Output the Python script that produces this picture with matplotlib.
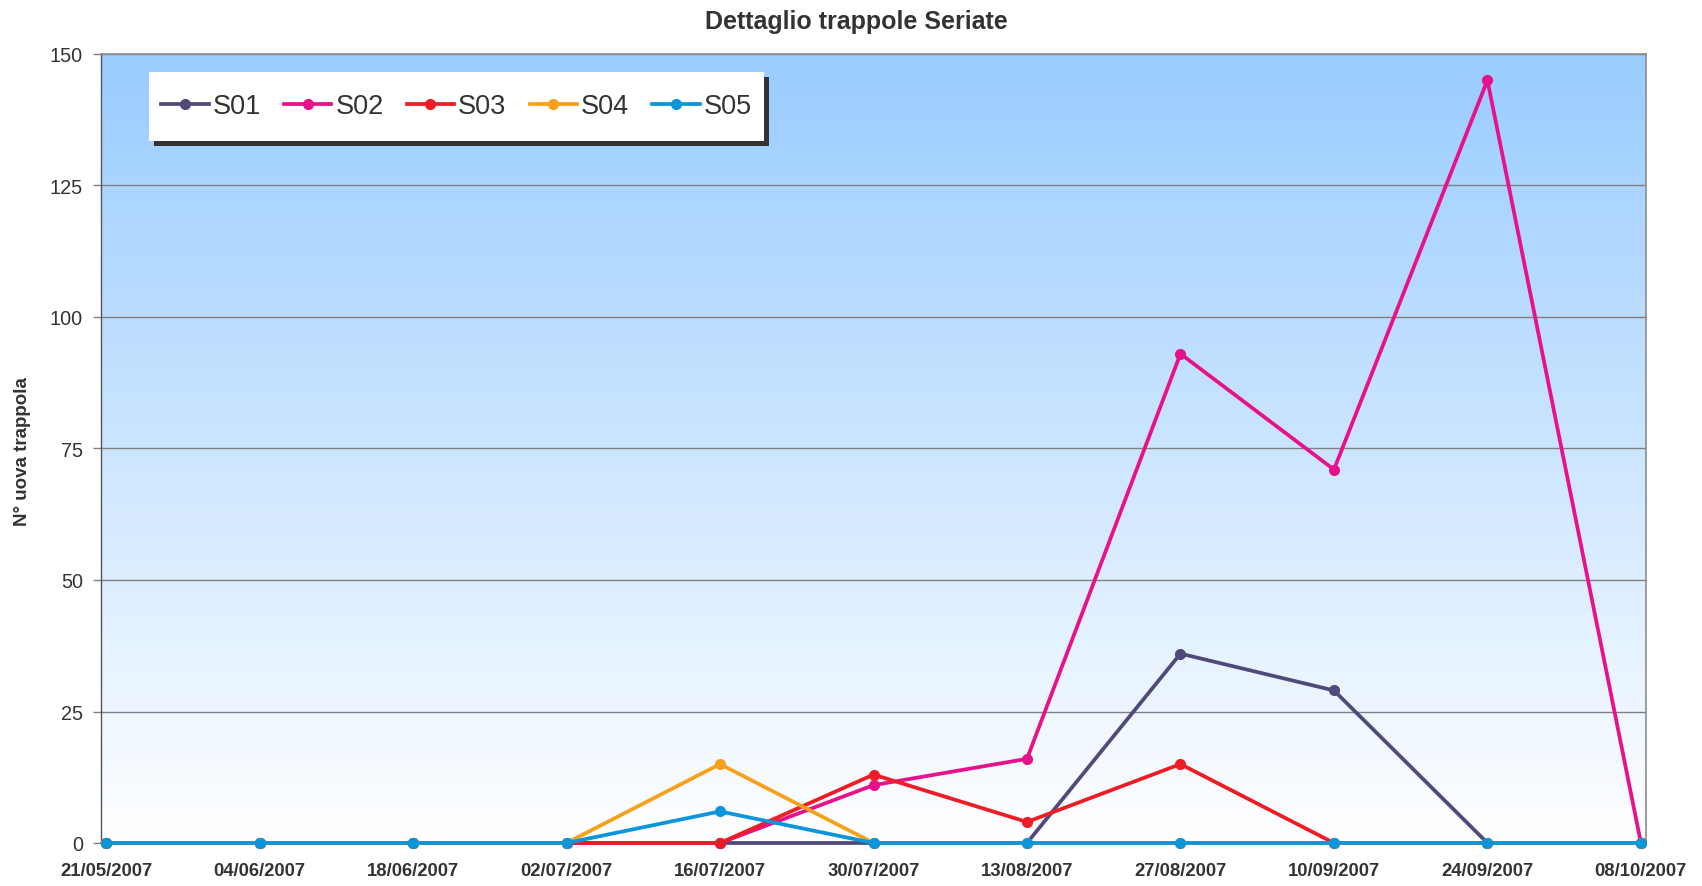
import numpy as np
import matplotlib
matplotlib.use("Agg")
import matplotlib.pyplot as plt
from matplotlib.patches import Rectangle

plt.rcParams['font.family'] = ['Liberation Sans', 'DejaVu Sans']

dates = ["21/05/2007", "04/06/2007", "18/06/2007", "02/07/2007", "16/07/2007",
         "30/07/2007", "13/08/2007", "27/08/2007", "10/09/2007", "24/09/2007",
         "08/10/2007"]
S01 = [0, 0, 0, 0, 0, 0, 0, 36, 29, 0, 0]
S02 = [0, 0, 0, 0, 0, 11, 16, 93, 71, 145, 0]
S03 = [0, 0, 0, 0, 0, 13, 4, 15, 0, 0, 0]
S04 = [0, 0, 0, 0, 15, 0, 0, 0, 0, 0, 0]
S05 = [0, 0, 0, 0, 6, 0, 0, 0, 0, 0, 0]

series = [("S01", S01, "#4F4A7A"),
          ("S02", S02, "#E8118C"),
          ("S03", S03, "#EE1C25"),
          ("S04", S04, "#F7A11A"),
          ("S05", S05, "#0A96D8")]

W, H = 1702, 887
fig = plt.figure(figsize=(W / 100, H / 100), dpi=100)
L, R, T, B = 101, 1646, 55, 844
ax = fig.add_axes([L / W, 1 - B / H, (R - L) / W, (B - T) / H])
ax.patch.set_visible(False)

# gradient background
top = np.array([153, 204, 255]) / 255
bot = np.array([255, 255, 255]) / 255
t = np.linspace(0, 1, 256)[:, None]
grad = (top[None, :] * (1 - t) + bot[None, :] * t)[:, None, :]
ax.imshow(grad, extent=[0, 1, 0, 1], transform=ax.transAxes, aspect='auto',
          zorder=0, interpolation='bilinear')

x = np.arange(len(dates))
for i, (name, vals, col) in enumerate(series):
    ax.plot(x, vals, color=col, lw=2.7, marker='o', markersize=7,
            label=name, zorder=3 + i, solid_joinstyle='round', clip_on=False)

ax.set_xlim(-0.033, len(dates) - 1 + 0.033)
ax.set_ylim(0, 150)
ax.set_yticks(np.arange(0, 151, 25))
ax.set_xticks(x)
ax.set_xticklabels(dates, fontsize=13.3, fontweight='bold', color='#333333')
ax.tick_params(axis='y', labelsize=14.3, colors='#333333', length=6, pad=7,
               color='#808080', width=1)
ax.tick_params(axis='x', length=3, pad=11, color='#808080')
ax.grid(axis='y', color='#808080', lw=1.0, zorder=0.5)
ax.set_axisbelow(True)

for s in ['top', 'right', 'bottom']:
    ax.spines[s].set_color('#8C8C8C')
    ax.spines[s].set_linewidth(1.2)
ax.spines['left'].set_color('#555555')
ax.spines['left'].set_linewidth(1.0)

ax.set_ylabel("N° uova trappola", fontsize=13.5, fontweight='bold', color='#333333')
ax.yaxis.set_label_coords(-0.045, 0.497)

fig.text(856 / W, 1 - 22 / H, "Dettaglio trappole Seriate", fontsize=18,
         fontweight='bold', color='#333333', ha='center', va='center')

# legend box (pixel coords of the reference): x 149..765, y 73..142 from top
box_x0, box_x1, box_y0, box_y1 = 149, 765, 73, 142
box_cy = (box_y0 + box_y1) / 2
ax_h = B - T
leg = ax.legend(loc='center left',
                bbox_to_anchor=((box_x0 - L) / (R - L), (B - box_cy) / ax_h),
                borderaxespad=0, ncol=5, fontsize=19.5, frameon=False,
                handlelength=1.75, handletextpad=0.15,
                columnspacing=0.85, borderpad=0.45)
for txt in leg.get_texts():
    txt.set_color('#333333')
leg.set_zorder(21)

fig.canvas.draw()
bb = leg.get_window_extent()
bh = box_y1 - box_y0
cy = (bb.y0 + bb.y1) / 2
face = Rectangle((bb.x0, cy - bh / 2), bb.width, bh, transform=None,
                 facecolor='white', edgecolor='none', zorder=20, clip_on=False)
shadow = Rectangle((bb.x0 + 5, cy - bh / 2 - 5), bb.width, bh, transform=None,
                   facecolor='#333333', edgecolor='none', zorder=19, clip_on=False)
ax.add_artist(shadow)
ax.add_artist(face)

fig.savefig("out.png", dpi=100)
